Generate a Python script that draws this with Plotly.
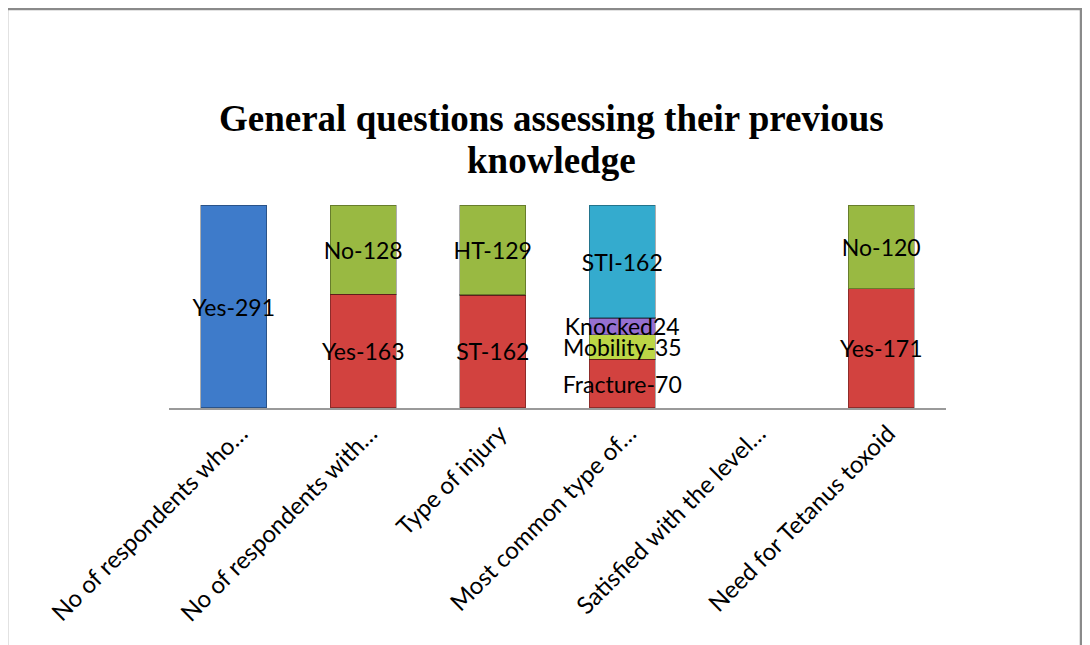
import plotly.graph_objects as go

categories = [
    "No of respondents who…",
    "No of respondents with…",
    "Type of injury",
    "Most common type of…",
    "Satisfied with the level…",
    "Need for Tetanus toxoid",
]

# Stacked segments (bottom to top); None = no segment in that category
blue_vals = [291, None, None, None, None, None]
blue_text = ["Yes-291", "", "", "", "", ""]

red_vals = [None, 163, 162, 70, None, 171]
red_text = ["", "Yes-163", "ST-162", "Fracture-70", "", "Yes-171"]

mobility_vals = [None, None, None, 35, None, None]
mobility_text = ["", "", "", "Mobility-35", "", ""]

knocked_vals = [None, None, None, 24, None, None]
knocked_text = ["", "", "", "Knocked24", "", ""]

green_vals = [None, 128, 129, None, None, 120]
green_text = ["", "No-128", "HT-129", "", "", "No-120"]

cyan_vals = [None, None, None, 162, None, None]
cyan_text = ["", "", "", "STI-162", "", ""]

series = [
    ("Blue", blue_vals, blue_text, "#3e7bca"),
    ("Red", red_vals, red_text, "#d2423f"),
    ("Mobility", mobility_vals, mobility_text, "#bcd646"),
    ("Knocked", knocked_vals, knocked_text, "#9670d0"),
    ("Green", green_vals, green_text, "#99b942"),
    ("Cyan", cyan_vals, cyan_text, "#34abce"),
]

fig = go.Figure()
for name, vals, txt, col in series:
    fig.add_trace(go.Bar(
        x=categories, y=vals, name=name, text=txt,
        textposition="inside", insidetextanchor="middle",
        constraintext="none", textangle=0,
        textfont=dict(family="Lato", size=23, color="black"),
        marker=dict(color=col, line=dict(color="rgba(0,0,0,0.32)", width=1.2)),
        cliponaxis=False, showlegend=False, hoverinfo="skip",
    ))

OFF = 8  # page body margin
W, H = 1090, 645
L, R, T, B = 169 - OFF, 144 + OFF, 205 - OFF, 237 + OFF
pw, ph = W - L - R, H - T - B

def px_x(p):
    return (p - OFF - L) / pw

def px_y(p):
    return (H - B - (p - OFF)) / ph

fig.update_layout(
    width=W, height=H,
    margin=dict(l=L, r=R, t=T, b=B),
    barmode="stack", bargap=0.49,
    paper_bgcolor="white", plot_bgcolor="white",
    font=dict(family="Lato", color="black"),
    xaxis=dict(
        showline=True, linecolor="#9a9a9a", linewidth=2,
        ticks="", tickangle=-45, ticklabelshift=7,
        tickfont=dict(family="Lato", size=24, color="black"),
        showgrid=False, zeroline=False,
    ),
    yaxis=dict(range=[0, 291], visible=False, showgrid=False, zeroline=False),
)

fig.add_shape(type="rect", xref="paper", yref="paper",
              x0=px_x(7), x1=px_x(1081), y0=px_y(670), y1=px_y(9),
              line=dict(color="#8a8a8a", width=2.5), fillcolor="rgba(0,0,0,0)",
              layer="above")

title_font = dict(family="Liberation Serif", size=37, color="black")
fig.add_annotation(text="<b>General questions assessing their previous</b>",
                   xref="paper", yref="paper", x=px_x(551), y=px_y(118),
                   xanchor="center", yanchor="middle", showarrow=False, font=title_font)
fig.add_annotation(text="<b>knowledge</b>",
                   xref="paper", yref="paper", x=px_x(551), y=px_y(160),
                   xanchor="center", yanchor="middle", showarrow=False, font=title_font)

fig.write_html("out.html")
